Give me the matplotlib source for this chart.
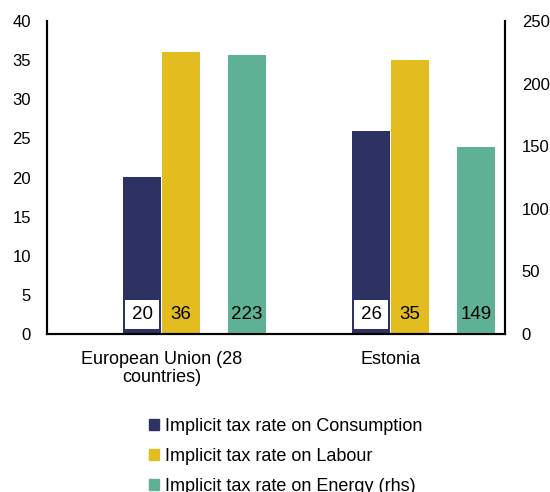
import matplotlib
matplotlib.use("Agg")
import matplotlib.pyplot as plt
from matplotlib.patches import Patch, Rectangle

plt.rcParams['font.family'] = ['Liberation Sans', 'DejaVu Sans']

categories = ["European Union (28\ncountries)", "Estonia"]
consumption = [20, 26]
labour = [36, 35]
energy = [223, 149]
series_names = ["Implicit tax rate on Consumption",
                "Implicit tax rate on Labour",
                "Implicit tax rate on Energy (rhs)"]
colors = ["#2e3262", "#e3bc1f", "#5fb196"]

fig = plt.figure(figsize=(5.5, 4.92), dpi=100)
ax = fig.add_axes([47/550, 1-334/492, (505-47)/550, (334-21)/492])
ax2 = ax.twinx()

x = [0, 1]
w = 0.166
off_c, off_l, off_e = -0.085, 0.083, 0.373

ax.bar([i + off_c for i in x], consumption, w, color=colors[0], zorder=2)
ax.bar([i + off_l for i in x], labour, w, color=colors[1], zorder=2)
ax2.bar([i + off_e for i in x], energy, w, color=colors[2], zorder=2)

label_y = 2.5
vfs = 13.5
for i in x:
    bw, bh = w * 0.89, 3.6
    ax.add_patch(Rectangle((i + off_c - bw / 2, label_y - bh / 2), bw, bh,
                           facecolor='white', edgecolor='none', zorder=4))
    ax.text(i + off_c, label_y, str(consumption[i]), ha='center', va='center', fontsize=vfs, zorder=5)
    ax.text(i + off_l, label_y, str(labour[i]), ha='center', va='center', fontsize=vfs, zorder=5)
    ax2.text(i + off_e, label_y * 250 / 40, str(energy[i]), ha='center', va='center', fontsize=vfs, zorder=5)

ax.set_xlim(-0.5, 1.5)
ax.set_ylim(0, 40)
ax2.set_ylim(0, 250)
ax.set_yticks(range(0, 41, 5))
ax2.set_yticks(range(0, 251, 50))
ax.set_xticks(x)
ax.set_xticklabels(categories, fontsize=13, linespacing=1.1)
ax.tick_params(axis='x', length=0, labelsize=13, pad=12)
ax.tick_params(axis='y', length=0, labelsize=12, pad=11.5)
ax2.tick_params(axis='y', length=0, labelsize=12, pad=12)

for a in (ax, ax2):
    a.spines['top'].set_visible(False)
    for s in ('left', 'right', 'bottom'):
        a.spines[s].set_linewidth(1.5)
        a.spines[s].set_color('black')

handles = [Patch(color=c) for c in colors]
fig.legend(handles, series_names, loc='upper left', bbox_to_anchor=(133/550, 1-402/492),
           frameon=False, fontsize=13, handlelength=0.55, handleheight=0.55,
           handletextpad=0.3, labelspacing=0.7)

fig.savefig("out.png", dpi=100)
